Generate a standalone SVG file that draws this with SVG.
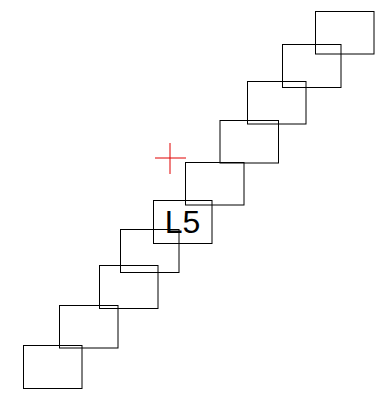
<svg xmlns="http://www.w3.org/2000/svg" width="382" height="395" viewBox="0 0 382 395">
<style>
.n rect{fill:none;stroke:#000;stroke-width:1}
.lbl{font-family:"Liberation Sans",Arial,sans-serif;font-size:32px;fill:#000;text-anchor:middle}
.cross line{stroke:#e00000;stroke-width:1}
</style>
<rect width="382" height="395" fill="#fff"/>
<g id="cross" class="cross">
<line x1="155" y1="158" x2="186" y2="158"/>
<line x1="170" y1="143" x2="170" y2="174"/>
</g>
<g id="connectors"></g>
<g id="n1" class="n"><rect x="315.5" y="11.5" width="58.5" height="42.5"/></g>
<g id="n2" class="n"><rect x="282.5" y="44.5" width="58.5" height="43"/></g>
<g id="n3" class="n"><rect x="247.5" y="81.5" width="58.5" height="42.5"/></g>
<g id="n4" class="n"><rect x="220" y="120.5" width="58.5" height="42.5"/></g>
<g id="n5" class="n"><rect x="185.5" y="162.5" width="58.5" height="42.5"/></g>
<g id="L5" class="n"><rect x="153.5" y="200.5" width="58.5" height="43"/><text class="lbl" x="182.5" y="233">L5</text></g>
<g id="n7" class="n"><rect x="120.5" y="229.5" width="58.5" height="43"/></g>
<g id="n8" class="n"><rect x="99.5" y="265.5" width="58.5" height="43"/></g>
<g id="n9" class="n"><rect x="59.5" y="305.5" width="58.5" height="42.5"/></g>
<g id="n10" class="n"><rect x="23.5" y="345.5" width="58.5" height="43"/></g>
</svg>
